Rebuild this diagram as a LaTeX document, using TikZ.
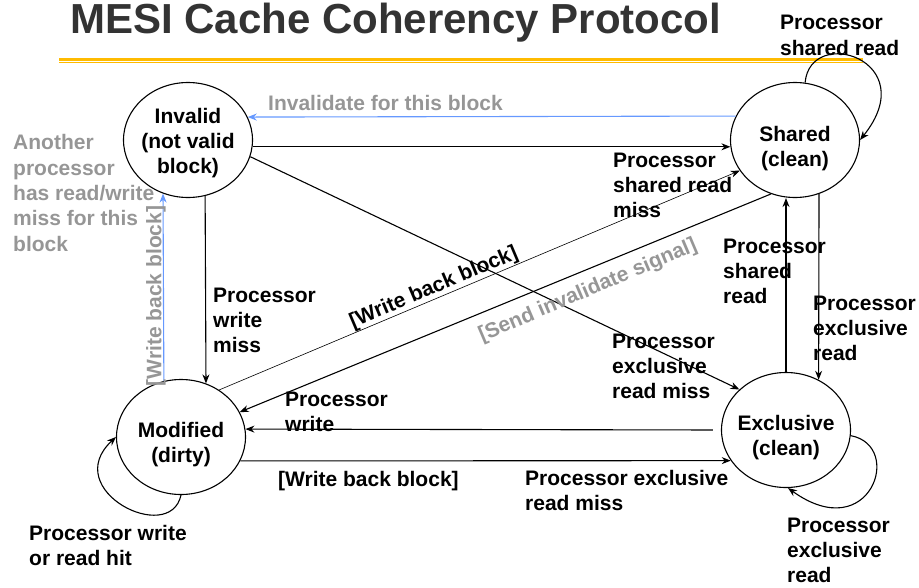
\documentclass[tikz,border=0pt]{standalone}
\usepackage{fontspec}
\setmainfont{Liberation Sans}
\usetikzlibrary{shapes.geometric,arrows.meta}

\definecolor{titlegray}{RGB}{51,51,51}
\definecolor{notegray}{RGB}{150,150,150}
\definecolor{linkblue}{RGB}{102,153,255}
\definecolor{rulegold}{RGB}{255,187,0}

\begin{document}
\begin{tikzpicture}[x=1pt,y=-1pt,
    state/.style={ellipse,draw,line width=1.1pt,minimum width=129pt,minimum height=115pt,inner sep=0pt},
    stxt/.style={font=\fontsize{21}{25}\selectfont\bfseries,align=center,inner sep=0pt},
    lbl/.style={font=\fontsize{21}{25.3}\selectfont\bfseries,align=left,inner sep=0pt,anchor=base west},
    note/.style={lbl,text=notegray},
    edge/.style={line width=1.1pt,-{Stealth[length=9pt,width=7pt]}}]
            \useasboundingbox (0,0) rectangle (919,587);

            % title and rule
            \node[anchor=base west,inner sep=0pt,text=titlegray,font=\fontsize{42}{50}\selectfont\bfseries] (title) at (70,33) {MESI Cache Coherency Protocol};
            \draw[rulegold,line width=3.5pt] (59,59.5) -- (863,59.5);
            \draw[rulegold,line width=1.2pt] (59,62.8) -- (863,62.8);

            % the four states
            \node[state] (inv) at (188,140) {};
            \node[state] (shr) at (795,140) {};
            \node[state] (mod) at (181,437) {};
            \node[state] (exc) at (786,430) {};
            \node[stxt] (inv-t) at (188,143.5) {Invalid\\(not valid\\block)};
            \node[stxt] (shr-t) at (795,149) {Shared\\(clean)};
            \node[stxt] (mod-t) at (181,445) {Modified\\(dirty)};
            \node[stxt] (exc-t) at (786,438) {Exclusive\\(clean)};

            % transitions
            \draw[edge,linkblue] (shr.158.7) -- (inv.21.3);
            \draw[edge] (inv.-6) -- (shr.186);
            \draw[edge] (inv.-15.4) -- (exc.139.1);
            \draw[edge] (inv.-73) -- (mod.65.8);
            \draw[edge,linkblue] (mod.107) -- (inv.245.3);
            \draw[edge,line width=0.6pt] (mod.51.5) -- (shr.209.6);
            \draw[edge] (shr.246.3) -- (mod.23.3);
            \draw[edge] (exc.north) -- (exc.north |- shr.south);
            \draw[edge] (shr.-66.8) -- (exc.57.3);
            \draw[edge,shorten <=8pt] (exc.180) -- (mod.7.1);
            \draw[edge] (mod.-22.3) -- (exc.209.7);

            % self loops
            \draw[edge] (shr.80) .. controls +(5,-58) and +(64,-80) .. (shr.east);
            \draw[edge] (exc.-5) .. controls +(54,10) and +(82,59) .. (exc.-88);
            \draw[edge] (mod.south) .. controls +(-11,51) and +(-57,53) .. (mod.west);

            % labels (placed by the baseline of their last line)
            \node[lbl] (l-shloop) at (780,55) {Processor\\shared read};
            \node[note] (l-inval) at (268,110) {Invalidate for this block};
            \node[note] (l-other) at (13,251) {Another\\processor\\has read/write\\miss for this\\block};
            \node[lbl] (l-srm) at (613,217.6) {Processor\\shared read\\miss};
            \node[lbl] (l-wm) at (213,352.6) {Processor\\write\\miss};
            \node[lbl] (l-erm) at (612,398.6) {Processor\\exclusive\\read miss};
            \node[lbl] (l-sr) at (723,303.6) {Processor\\shared\\read};
            \node[lbl] (l-er) at (813,360.6) {Processor\\exclusive\\read};
            \node[lbl] (l-pw) at (285,431.3) {Processor\\write};
            \node[lbl] (l-wb) at (278,486) {[Write back block]};
            \node[lbl] (l-erm2) at (525,510.3) {Processor exclusive\\read miss};
            \node[lbl] (l-mloop) at (29,565.3) {Processor write\\or read hit};
            \node[lbl] (l-eloop) at (787,582.6) {Processor\\exclusive\\read};
            \node[stxt,rotate=23] (l-wbd) at (434,288) {[Write back block]};
            \node[stxt,rotate=23,text=notegray] (l-inv) at (588,291) {[Send invalidate signal]};
            \node[stxt,rotate=90,text=notegray] (l-wbv) at (156,296) {[Write back block]};
\end{tikzpicture}
\end{document}
